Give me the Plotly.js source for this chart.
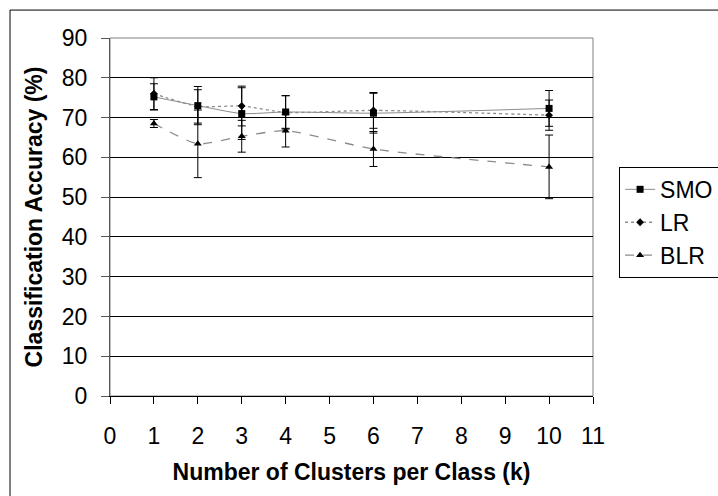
<!DOCTYPE html>
<html>
<head>
<meta charset="utf-8">
<script src="https://cdn.plot.ly/plotly-3.0.1.min.js"></script>
<style>
html,body{margin:0;padding:0;background:#fff;}
#chart{width:718px;height:496px;}
</style>
</head>
<body>
<div id="chart"></div>
<script>
const clusters = [1, 2, 3, 4, 6, 10];
const smoAcc = [75.2, 73.0, 71.0, 71.4, 71.1, 72.3];
const smoErr = [3.3, 4.8, 6.5, 4.1, 5.0, 4.5];
const lrAcc = [76.0, 72.8, 72.9, 71.3, 71.8, 70.6];
const lrErr = [4.0, 4.2, 5.0, 4.2, 4.5, 3.8];
const blrAcc = [68.5, 63.4, 65.3, 66.7, 62.1, 57.6];
const blrErr = [1.0, 8.5, 4.0, 4.1, 4.4, 8.0];
const seriesNames = ['SMO', 'LR', 'BLR'];
const xTicks = [0,1,2,3,4,5,6,7,8,9,10,11];
const yTicks = [0,10,20,30,40,50,60,70,80,90];

const FONT = 'Liberation Sans, Arial, sans-serif';
const FS = 23;
function errBar(arr){ return {type:'data', array:arr, visible:true, color:'#000', thickness:1, width:4}; }

const traces = [
  {x: clusters, y: smoAcc, name: seriesNames[0], type:'scatter', mode:'lines+markers',
   line:{color:'#8c8c8c', width:1, dash:'solid', shape:'spline', smoothing:0.6},
   marker:{symbol:'square', size:7, color:'#000'}, error_y: errBar(smoErr), legendgroup:'a'},
  {x: clusters, y: lrAcc, name: seriesNames[1], type:'scatter', mode:'lines+markers',
   line:{color:'#8c8c8c', width:1.3, dash:'dot', shape:'spline', smoothing:0.6},
   marker:{symbol:'diamond', size:6, color:'#000'}, error_y: errBar(lrErr), legendgroup:'b'},
  {x: clusters, y: blrAcc, name: seriesNames[2], type:'scatter', mode:'lines+markers',
   line:{color:'#8c8c8c', width:1.3, dash:'dash', shape:'spline', smoothing:0.6},
   marker:{symbol:'triangle-up', size:7, color:'#000'}, error_y: errBar(blrErr), legendgroup:'c'}
];

const layout = {
  width: 718, height: 496,
  margin: {l:110, r:125, t:38, b:100, autoexpand:false},
  paper_bgcolor:'#fff', plot_bgcolor:'#fff',
  font: {family: FONT, size: FS, color:'#000'},
  showlegend: true,
  legend: {x: 1.054, y: 0.64, xanchor:'left', yanchor:'top',
           bordercolor:'#000', borderwidth:1, bgcolor:'#fff',
           font:{family:FONT, size:FS, color:'#000'},
           itemwidth:30, tracegroupgap:0, traceorder:'grouped'},
  xaxis: {range:[0,11], tickvals:xTicks, ticktext:xTicks.map(String),
          showgrid:false, zeroline:false, showline:true, linecolor:'#000', linewidth:1,
          ticks:'outside', ticklen:7, tickcolor:'#000', tickfont:{family:FONT, size:FS},
          ticklabelstandoff:12,
          title:{text:'<b>Number of Clusters per Class (k)</b>', font:{family:FONT, size:FS}, standoff:16}},
  yaxis: {range:[0,90], tickvals:yTicks, ticktext:yTicks.map(String),
          showgrid:true, gridcolor:'#000', gridwidth:1, zeroline:false,
          showline:true, linecolor:'#555', linewidth:1,
          ticks:'outside', ticklen:8, tickcolor:'#555', tickfont:{family:FONT, size:FS},
          ticklabelstandoff:9,
          title:{text:'<b>Classification Accuracy (%)</b>', font:{family:FONT, size:FS}, standoff:12}},
  shapes: [
    {type:'rect', xref:'paper', yref:'paper', x0:0, x1:1, y0:0, y1:1,
     line:{color:'#808080', width:1}, layer:'below'},
    {type:'rect', xref:'paper', yref:'paper', x0:-0.207, x1:1.5, y0:-0.5, y1:1.078,
     line:{color:'#000', width:1}, layer:'below'}
  ]
};

Plotly.newPlot('chart', traces, layout, {displayModeBar:false, staticPlot:true});
</script>
</body>
</html>
